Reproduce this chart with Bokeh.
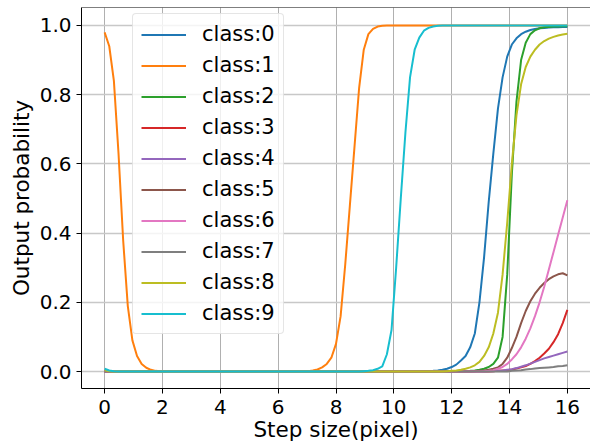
from bokeh.plotting import figure
from bokeh.embed import file_html
from bokeh.resources import INLINE
from bokeh.models import Range1d, FixedTicker, PrintfTickFormatter, Legend, LegendItem, Span

# sampling grid of step size (pixel)
x = [round(0.16 * i, 2) for i in range(101)]

class_0 = [0.0] * 69 + [0.001, 0.0015, 0.002, 0.003, 0.005, 0.008, 0.013, 0.02, 0.032, 0.045,
                        0.07, 0.11, 0.2, 0.33, 0.49, 0.63, 0.76, 0.85, 0.91, 0.945,
                        0.963, 0.975, 0.982, 0.987, 0.99, 0.992, 0.993, 0.994, 0.995, 0.995,
                        0.996, 0.996]
class_1 = ([0.98, 0.94, 0.84, 0.63, 0.38, 0.19, 0.09, 0.045, 0.022, 0.011, 0.005, 0.002, 0.001]
           + [0.0] * 31
           + [0.001, 0.003, 0.006, 0.012, 0.022, 0.04, 0.08, 0.16, 0.31, 0.48,
              0.65, 0.82, 0.93, 0.975, 0.99, 0.997, 0.999]
           + [1.0] * 40)
class_2 = [0.0] * 77 + [0.001, 0.0015, 0.002, 0.003, 0.005, 0.008, 0.013, 0.022, 0.04, 0.1,
                        0.28, 0.57, 0.78, 0.9, 0.95, 0.975, 0.986, 0.992, 0.995, 0.996,
                        0.997, 0.997, 0.998, 0.998]
class_3 = [0.0] * 84 + [0.001, 0.002, 0.003, 0.004, 0.006, 0.009, 0.012, 0.016, 0.022, 0.03,
                        0.04, 0.052, 0.066, 0.085, 0.108, 0.14, 0.178]
class_4 = [0.0] * 83 + [0.001, 0.001, 0.002, 0.003, 0.005, 0.007, 0.01, 0.014, 0.018, 0.023,
                        0.028, 0.033, 0.038, 0.042, 0.046, 0.05, 0.054, 0.058]
class_5 = [0.0] * 80 + [0.001, 0.002, 0.003, 0.005, 0.008, 0.012, 0.022, 0.04, 0.068, 0.1,
                        0.14, 0.175, 0.203, 0.225, 0.242, 0.256, 0.267, 0.275, 0.281, 0.284,
                        0.278]
class_6 = [0.0] * 82 + [0.001, 0.002, 0.004, 0.008, 0.013, 0.022, 0.035, 0.05, 0.07, 0.095,
                        0.125, 0.16, 0.2, 0.245, 0.295, 0.345, 0.395, 0.445, 0.495]
class_7 = [0.0] * 88 + [0.002, 0.003, 0.004, 0.006, 0.007, 0.009, 0.01, 0.011, 0.012, 0.013,
                        0.015, 0.016, 0.018]
class_8 = ([0.004, 0.001] + [0.0] * 72
           + [0.001, 0.002, 0.003, 0.005, 0.008, 0.012, 0.018, 0.028, 0.045, 0.07,
              0.11, 0.17, 0.28, 0.43, 0.6, 0.74, 0.83, 0.88, 0.91, 0.93,
              0.945, 0.955, 0.962, 0.967, 0.971, 0.974, 0.976])
class_9 = ([0.008, 0.003, 0.001] + [0.0] * 53
           + [0.001, 0.002, 0.004, 0.008, 0.015, 0.05, 0.12, 0.30, 0.50, 0.69,
              0.85, 0.93, 0.965, 0.985, 0.993, 0.997, 0.999]
           + [1.0] * 28)

series = [class_0, class_1, class_2, class_3, class_4, class_5, class_6, class_7, class_8, class_9]
labels = ["class:0", "class:1", "class:2", "class:3", "class:4",
          "class:5", "class:6", "class:7", "class:8", "class:9"]
colors = ["#1f77b4", "#ff7f0e", "#2ca02c", "#d62728", "#9467bd",
          "#8c564b", "#e377c2", "#7f7f7f", "#bcbd22", "#17becf"]
x_ticks = [0, 2, 4, 6, 8, 10, 12, 14, 16]
y_ticks = [0.0, 0.2, 0.4, 0.6, 0.8, 1.0]
x_title = "Step size(pixel)"
y_title = "Output probability"

FONT = "DejaVu Sans"
Y_LO, Y_HI = -0.049, 1.052

p = figure(width=590, height=444,
           x_range=Range1d(-0.8, 16.8), y_range=Range1d(Y_LO, Y_HI),
           output_backend="svg", toolbar_location=None,
           min_border_left=81, min_border_right=0, min_border_top=7, min_border_bottom=0)
p.outline_line_color = None
p.background_fill_color = "white"
p.border_fill_color = "white"

for ax in (p.xaxis[0], p.yaxis[0]):
    ax.major_label_text_font = FONT
    ax.major_label_text_font_size = "20px"
    ax.major_label_text_color = "black"
    ax.axis_label_text_font = FONT
    ax.axis_label_text_font_size = "21.5px"
    ax.axis_label_text_font_style = "normal"
    ax.axis_label_text_color = "black"
    ax.major_tick_out = 5
    ax.major_tick_in = 0
    ax.minor_tick_out = 0
    ax.minor_tick_in = 0
    ax.axis_line_color = "black"
    ax.axis_line_width = 1
    ax.major_tick_line_color = "black"
    ax.major_tick_line_width = 1

p.xaxis.ticker = FixedTicker(ticks=x_ticks)
p.yaxis.ticker = FixedTicker(ticks=y_ticks)
p.yaxis.formatter = PrintfTickFormatter(format="%.1f")
p.xaxis.axis_label = x_title
p.yaxis.axis_label = y_title
p.xaxis.major_label_standoff = 6
p.xaxis.axis_label_standoff = 0
p.yaxis.major_label_standoff = 5
p.yaxis.axis_label_standoff = 3

p.xgrid.ticker = FixedTicker(ticks=x_ticks)
p.ygrid.ticker = FixedTicker(ticks=y_ticks)
p.xgrid.grid_line_color = "#b0b0b0"
p.ygrid.grid_line_color = "#c8c8c8"
p.xgrid.grid_line_width = 1
p.ygrid.grid_line_width = 1.3

p.add_layout(Span(location=Y_HI, dimension="width", line_color="black", line_width=1))

items = []
for ys, lab, col in zip(series, labels, colors):
    r = p.line(x, ys, line_color=col, line_width=2)
    items.append(LegendItem(label=lab, renderers=[r]))

legend = Legend(items=items, location=(51, 54))
legend.label_text_font = FONT
legend.label_text_font_size = "21px"
legend.label_text_color = "black"
legend.glyph_width = 45
legend.glyph_height = 21
legend.label_height = 21
legend.label_standoff = 16
legend.spacing = 7
legend.padding = 8
legend.margin = 0
legend.border_line_color = "#cccccc"
legend.border_line_width = 1
legend.background_fill_color = "white"
legend.background_fill_alpha = 0.8
try:
    legend.border_radius = 4
except Exception:
    pass
p.add_layout(legend)

open("out.html", "w").write(file_html(p, INLINE))
